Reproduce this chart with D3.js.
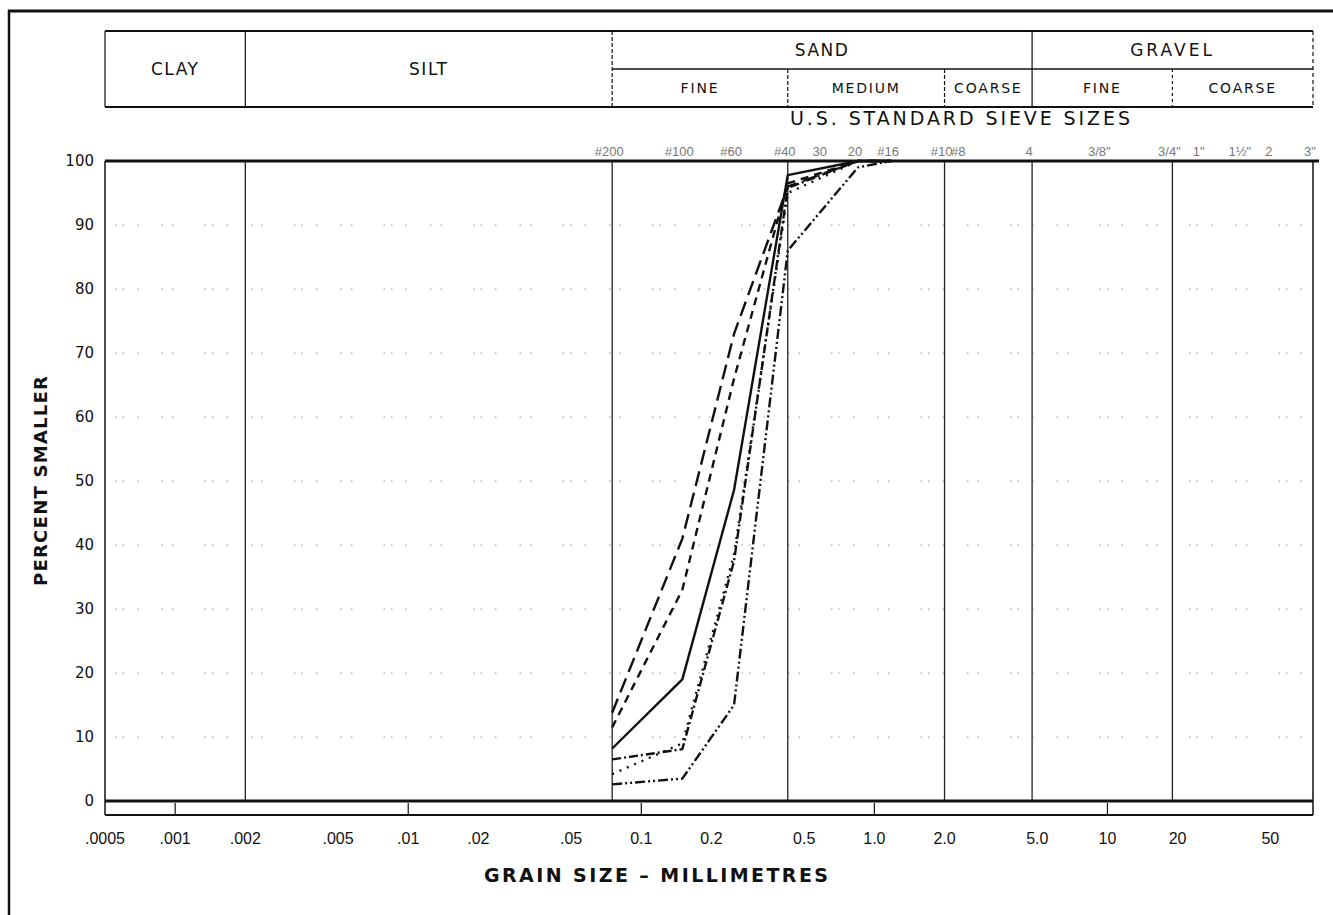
<!DOCTYPE html>
<html lang="en">
<head>
  <meta charset="UTF-8">
  <title>Grain Size Distribution</title>
  <script src="https://d3js.org/d3.v7.min.js"></script>
  <style>
    body {
      margin: 0;
      background: #fff;
      font-family: "Liberation Sans", Arial, sans-serif;
    }
    svg text {
      fill: #111;
    }
    .wide {
      font-family: "DejaVu Sans", sans-serif;
    }
    .curve {
      fill: none;
      stroke: #111;
      stroke-width: 2.4;
      stroke-linejoin: round;
    }
  </style>
</head>
<body>
  <svg width="1333" height="915"></svg>

  <script>
    // Grain size classes (header table)
    const mainClasses = ["CLAY", "SILT", "SAND", "GRAVEL"];
    const mainBounds = [0.0005, 0.002, 0.075, 4.75, 76.2];
    const subClasses = ["FINE", "MEDIUM", "COARSE", "FINE", "COARSE"];
    const subBounds = [0.075, 0.425, 2.0, 4.75, 19, 76.2];

    // U.S. standard sieves (mm opening)
    const sieveLabels = ["#200", "#100", "#60", "#40", "30", "20", "#16", "#10", "#8", "4", "3/8\"", "3/4\"", "1\"", "1½\"", "2", "3\""];
    const sieveSizes = [0.075, 0.15, 0.25, 0.425, 0.6, 0.85, 1.18, 2.0, 2.36, 4.75, 9.5, 19, 25.4, 38.1, 50.8, 76.2];

    // Bottom axis
    const tickValues = [0.0005, 0.001, 0.002, 0.005, 0.01, 0.02, 0.05, 0.1, 0.2, 0.5, 1, 2, 5, 10, 20, 50];
    const tickLabels = [".0005", ".001", ".002", ".005", ".01", ".02", ".05", "0.1", "0.2", "0.5", "1.0", "2.0", "5.0", "10", "20", "50"];
    const bandTicks = [0.001, 0.01, 0.1, 1, 10];
    const gridSizes = [0.002, 0.075, 0.425, 2.0, 4.75, 19];
    const percentTicks = [0, 10, 20, 30, 40, 50, 60, 70, 80, 90, 100];

    // Gradation curves (percent smaller at each sieve)
    const curveSizes = [0.075, 0.15, 0.25, 0.425, 0.85, 1.18];
    const longDash = [13.8, 41, 73, 96, 100, 100];
    const shortDash = [11.5, 33, 66, 96.5, 100, 100];
    const solid = [8.2, 19, 48.6, 97.8, 100, 100];
    const dashDot = [6.5, 8.1, 37.5, 95.8, 100, 100];
    const dotted = [4.2, 9, 38.5, 95, 100, 100];
    const dashDotDot = [2.6, 3.5, 15, 86, 99, 100];

    const curves = [
      { values: longDash, dash: "15,7" },
      { values: shortDash, dash: "8,6" },
      { values: solid, dash: null },
      { values: dashDot, dash: "9,3,2,3" },
      { values: dotted, dash: "2,6" },
      { values: dashDotDot, dash: "10,3,2,3,2,3" }
    ];

    const svg = d3.select("svg");

    const x = d3.scaleLog().domain([0.0005, 76.2]).range([105, 1313]);
    const y = d3.scaleLinear().domain([0, 100]).range([801, 161]);

    // page border (scanned sheet frame)
    svg.append("line").attr("x1", 8).attr("x2", 1333).attr("y1", 11).attr("y2", 11)
      .attr("stroke", "#111").attr("stroke-width", 3);
    svg.append("line").attr("x1", 9).attr("x2", 9).attr("y1", 10).attr("y2", 915)
      .attr("stroke", "#111").attr("stroke-width", 2.5);

    // ---- header table ----
    const tTop = 31, tMid = 69, tBot = 107;
    const head = svg.append("g");
    head.append("line").attr("x1", x(0.0005)).attr("x2", x(76.2)).attr("y1", tTop).attr("y2", tTop)
      .attr("stroke", "#111").attr("stroke-width", 2);
    head.append("line").attr("x1", x(0.0005)).attr("x2", x(76.2)).attr("y1", tBot).attr("y2", tBot)
      .attr("stroke", "#111").attr("stroke-width", 2);
    head.append("line").attr("x1", x(0.075)).attr("x2", x(76.2)).attr("y1", tMid).attr("y2", tMid)
      .attr("stroke", "#111").attr("stroke-width", 1.5);

    // vertical dividers
    const dividers = [
      { v: 0.0005, y1: tTop, dash: null },
      { v: 0.002, y1: tTop, dash: null },
      { v: 0.075, y1: tTop, dash: "4,2" },
      { v: 0.425, y1: tMid, dash: "4,2" },
      { v: 2.0, y1: tMid, dash: "4,2" },
      { v: 4.75, y1: tTop, dash: null },
      { v: 19, y1: tMid, dash: "3,3" },
      { v: 76.2, y1: tTop, dash: "4,3" }
    ];
    head.selectAll(".divider").data(dividers).enter().append("line")
      .attr("x1", d => x(d.v)).attr("x2", d => x(d.v))
      .attr("y1", d => d.y1).attr("y2", tBot)
      .attr("stroke", "#111").attr("stroke-width", 1.2)
      .attr("stroke-dasharray", d => d.dash);

    head.selectAll(".mainClass").data(mainClasses).enter().append("text")
      .attr("class", "wide")
      .attr("x", (d, i) => (x(mainBounds[i]) + x(mainBounds[i + 1])) / 2)
      .attr("y", (d, i) => i < 2 ? (tTop + tBot) / 2 : (tTop + tMid) / 2)
      .attr("dy", "0.36em")
      .attr("text-anchor", "middle")
      .style("font-size", "17px")
      .style("letter-spacing", (d, i) => i === 3 ? "3px" : "1.5px")
      .text(d => d);

    head.selectAll(".subClass").data(subClasses).enter().append("text")
      .attr("class", "wide")
      .attr("x", (d, i) => (x(subBounds[i]) + x(subBounds[i + 1])) / 2)
      .attr("y", (tMid + tBot) / 2)
      .attr("dy", "0.36em")
      .attr("text-anchor", "middle")
      .style("font-size", "14px")
      .style("letter-spacing", "1.8px")
      .text(d => d);

    // ---- sieve sizes ----
    svg.append("text")
      .attr("class", "wide")
      .attr("x", 960).attr("y", 118)
      .attr("dy", "0.36em")
      .attr("text-anchor", "middle")
      .attr("textLength", 340)
      .attr("lengthAdjust", "spacing")
      .style("font-size", "19px")
      .text("U.S. STANDARD SIEVE SIZES");

    svg.selectAll(".sieve").data(sieveSizes).enter().append("text")
      .attr("x", d => x(d) - 3)
      .attr("y", 151)
      .attr("dy", "0.36em")
      .attr("text-anchor", "middle")
      .style("font-size", "13px")
      .style("fill", "#777")
      .text((d, i) => sieveLabels[i]);

    // ---- plot area ----
    const plot = svg.append("g");

    // faint dotted percent grid (as on the scanned sheet)
    plot.selectAll(".hgrid").data(percentTicks.slice(1, -1)).enter().append("line")
      .attr("x1", x(0.0005) + 10).attr("x2", x(76.2) - 5)
      .attr("y1", d => y(d)).attr("y2", d => y(d))
      .attr("stroke", "#999").attr("stroke-width", 1.2)
      .attr("stroke-dasharray", "1.5,6,1.5,13,1.5,23,1.5,9,1.5,31");

    // vertical grid lines at class boundaries
    plot.selectAll(".vgrid").data(gridSizes).enter().append("line")
      .attr("x1", d => x(d)).attr("x2", d => x(d))
      .attr("y1", y(100)).attr("y2", y(0))
      .attr("stroke", "#222").attr("stroke-width", 1.3);

    // frame
    plot.append("line").attr("x1", x(0.0005)).attr("x2", x(0.0005))
      .attr("y1", y(100)).attr("y2", 815).attr("stroke", "#111").attr("stroke-width", 1.5);
    plot.append("line").attr("x1", x(76.2)).attr("x2", x(76.2))
      .attr("y1", y(100)).attr("y2", 815).attr("stroke", "#111").attr("stroke-width", 1.5);
    plot.append("line").attr("x1", x(0.0005)).attr("x2", x(76.2) + 6)
      .attr("y1", y(100)).attr("y2", y(100)).attr("stroke", "#111").attr("stroke-width", 3);
    plot.append("line").attr("x1", x(0.0005)).attr("x2", x(76.2))
      .attr("y1", y(0)).attr("y2", y(0)).attr("stroke", "#111").attr("stroke-width", 3);

    // bottom log band
    plot.append("line").attr("x1", x(0.0005)).attr("x2", x(76.2))
      .attr("y1", 815).attr("y2", 815).attr("stroke", "#111").attr("stroke-width", 2.2);
    plot.selectAll(".bandTick").data(bandTicks).enter().append("line")
      .attr("x1", d => x(d)).attr("x2", d => x(d))
      .attr("y1", y(0) + 2).attr("y2", 815)
      .attr("stroke", "#111").attr("stroke-width", 1.2);

    // y axis labels
    svg.selectAll(".ylab").data(percentTicks).enter().append("text")
      .attr("class", "wide")
      .attr("x", 94)
      .attr("y", d => y(d))
      .attr("dy", "0.36em")
      .attr("text-anchor", "end")
      .style("font-size", "15px")
      .text(d => d);

    svg.append("text")
      .attr("class", "wide")
      .attr("transform", "translate(41," + y(50) + ") rotate(-90)")
      .attr("dy", "0.36em")
      .attr("text-anchor", "middle")
      .attr("textLength", 210)
      .attr("lengthAdjust", "spacing")
      .style("font-size", "18px")
      .style("font-weight", "bold")
      .text("PERCENT SMALLER");

    // x axis labels
    svg.selectAll(".xlab").data(tickValues).enter().append("text")
      .attr("x", d => x(d))
      .attr("y", 838)
      .attr("dy", "0.36em")
      .attr("text-anchor", "middle")
      .style("font-size", "16px")
      .text((d, i) => tickLabels[i]);

    svg.append("text")
      .attr("class", "wide")
      .attr("x", 656).attr("y", 875)
      .attr("dy", "0.36em")
      .attr("text-anchor", "middle")
      .attr("textLength", 344)
      .attr("lengthAdjust", "spacing")
      .style("font-size", "19px")
      .style("font-weight", "bold")
      .text("GRAIN SIZE – MILLIMETRES");

    // ---- gradation curves ----
    const line = d3.line()
      .x(d => x(d[0]))
      .y(d => y(d[1]));

    plot.selectAll(".curve").data(curves).enter().append("path")
      .attr("class", "curve")
      .attr("d", c => line(curveSizes.map((s, i) => [s, c.values[i]])))
      .attr("stroke-dasharray", c => c.dash);
  </script>
</body>
</html>
